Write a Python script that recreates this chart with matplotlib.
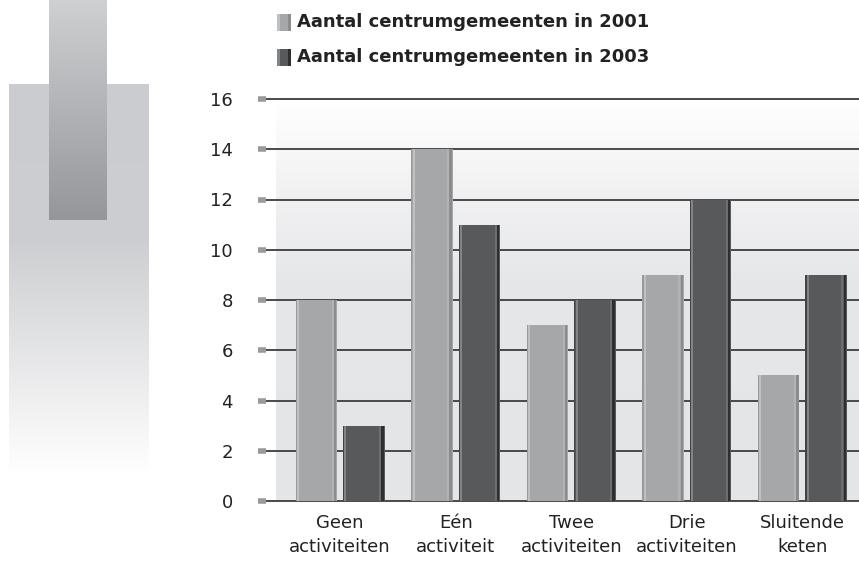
import numpy as np
import matplotlib
matplotlib.use("Agg")
import matplotlib.pyplot as plt
from matplotlib.colors import LinearSegmentedColormap

plt.rcParams['font.family'] = ['DejaVu Sans']

categories = ["Geen\nactiviteiten", "Eén\nactiviteit", "Twee\nactiviteiten", "Drie\nactiviteiten", "Sluitende\nketen"]
values_2001 = [8, 14, 7, 9, 5]
values_2003 = [3, 11, 8, 12, 9]
series_labels = ["Aantal centrumgemeenten in 2001", "Aantal centrumgemeenten in 2003"]
yticks = [0, 2, 4, 6, 8, 10, 12, 14, 16]

W, H = 859, 572
fig = plt.figure(figsize=(W / 100, H / 100), dpi=100)

# decorative background shapes (figure pixel coordinates)
deco = fig.add_axes([0, 0, 1, 1], zorder=0)
deco.set_xlim(0, W)
deco.set_ylim(H, 0)
deco.axis('off')
big = LinearSegmentedColormap.from_list('big', [(0, '#cbcccf'), (0.4, '#cdced1'), (1, '#ffffff')])
grad = np.linspace(0, 1, 256).reshape(-1, 1)
deco.imshow(grad, cmap=big, extent=(9, 149, 475, 84), aspect='auto', zorder=1)
small = LinearSegmentedColormap.from_list('small', ['#cfd0d2', '#95969a'])
deco.imshow(grad, cmap=small, extent=(49, 107, 220, 0), aspect='auto', zorder=2)

# main axes
ax = fig.add_axes([258 / W, 1 - 501 / H, 1 - 258 / W, (501 - 99) / H], zorder=1)
ax.patch.set_alpha(0)
x0, x1 = -0.71, 4.49
ax.set_xlim(x0, x1)
ax.set_ylim(0, 16)

# plot-area background gradient
bgc = LinearSegmentedColormap.from_list('bg', [(0, '#e4e5e7'), (0.55, '#e6e7e9'), (0.8, '#f3f3f4'), (1, '#ffffff')])
ax.imshow(np.linspace(0, 1, 256).reshape(-1, 1), cmap=bgc, origin='lower',
          extent=(-0.555, x1, 0, 16), aspect='auto', zorder=0)

# gridlines + tick markers
for t in yticks:
    ax.plot([-0.64, x1], [t, t], color='#3c3c3c', lw=1.3, zorder=1, clip_on=False)
    ax.plot([-0.71, -0.64], [t, t], color='#9a9a9a', lw=4, zorder=1, clip_on=False, solid_capstyle='butt')

x = np.arange(len(categories))
bw = 0.36
off = 0.205

def cyl(xc, vals, base, light, dark):
    ax.bar(xc, vals, width=bw, color=base, zorder=3, linewidth=0)
    ax.bar(xc - bw / 2 + bw * 0.06, vals, width=bw * 0.05, color=light, zorder=4, linewidth=0)
    ax.bar(xc - bw / 2 + bw * 0.015, vals, width=bw * 0.03, color=dark, zorder=4, linewidth=0, alpha=0.5)
    ax.bar(xc + bw / 2 - bw * 0.05, vals, width=bw * 0.06, color=dark, zorder=4, linewidth=0)
    ax.bar(xc + bw / 2 - bw * 0.11, vals, width=bw * 0.05, color=light, zorder=4, linewidth=0, alpha=0.5)

cyl(x - off, values_2001, '#a6a7a9', '#bfc0c2', '#8b8c8e')
cyl(x + off, values_2003, '#58595b', '#838486', '#2e2f30')

ax.set_yticks(yticks)
ax.set_yticklabels([str(t) for t in yticks], fontsize=13, color='#222222')
ax.tick_params(axis='y', length=0, pad=18)
ax.set_xticks(x)
ax.set_xticklabels(categories, fontsize=13, color='#222222', linespacing=1.5)
ax.tick_params(axis='x', length=0, pad=9)
for s in ax.spines.values():
    s.set_visible(False)

# legend
legend_items = [(series_labels[0], '#a6a7a9', '#bfc0c2', '#8b8c8e', 22),
                (series_labels[1], '#58595b', '#838486', '#2e2f30', 57)]
for lab, base, light, dark, yc in legend_items:
    deco.add_patch(plt.Rectangle((277, yc - 8.5), 13, 17, color=base, zorder=3, lw=0))
    deco.add_patch(plt.Rectangle((277, yc - 8.5), 3, 17, color=light, zorder=4, lw=0))
    deco.add_patch(plt.Rectangle((288, yc - 8.5), 2.5, 17, color=dark, zorder=4, lw=0))
    deco.text(297, yc, lab, fontsize=13, fontweight='bold', va='center', ha='left', color='#222222')

fig.savefig('out.png', dpi=100)
